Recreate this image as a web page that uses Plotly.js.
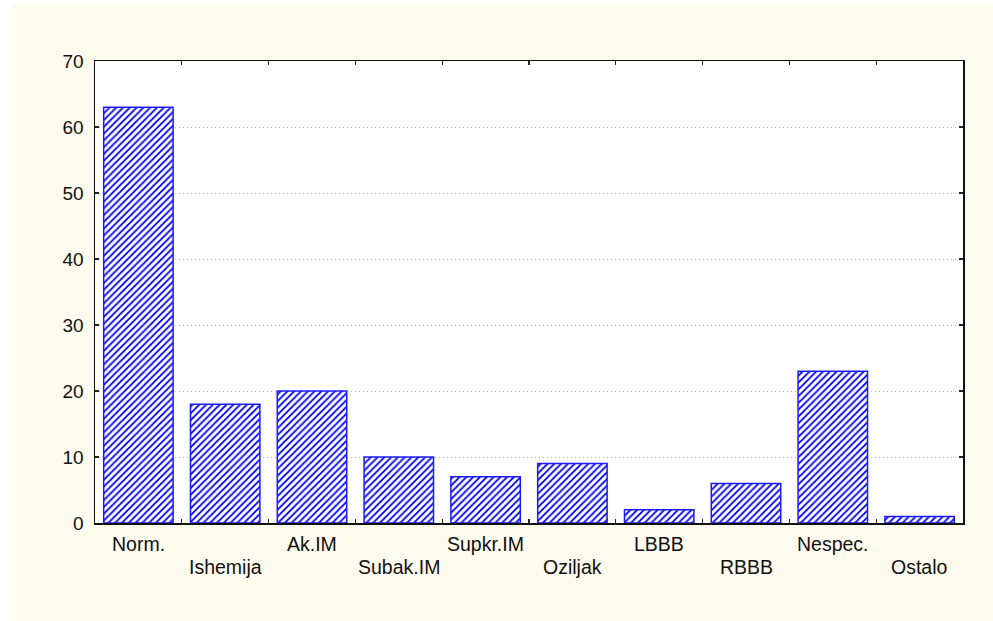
<!DOCTYPE html>
<html>
<head>
<meta charset="utf-8">
<script src="https://cdn.plot.ly/plotly-3.0.1.min.js"></script>
<style>
html,body{margin:0;padding:0;background:#ffffff;width:993px;height:621px;overflow:hidden;}
#chart{position:absolute;left:12px;top:4px;width:981px;height:617px;}
</style>
</head>
<body>
<div id="chart"></div>
<script>
const categories = ["Norm.", "Ishemija", "Ak.IM", "Subak.IM", "Supkr.IM", "Oziljak", "LBBB", "RBBB", "Nespec.", "Ostalo"];
const counts = [63, 18, 20, 10, 7, 9, 2, 6, 23, 1];
const yTicks = [0, 10, 20, 30, 40, 50, 60, 70];

const fontFam = '"Liberation Sans", Arial, Helvetica, sans-serif';

const trace = {
  type: 'bar',
  x: categories,
  y: counts,
  width: 0.8,
  marker: {
    color: '#ffffff',
    line: {color: '#1a1aff', width: 1.5},
    pattern: {shape: '/', fgcolor: '#0000ee', bgcolor: '#ffffff', size: 4.8, solidity: 0.38}
  },
  hoverinfo: 'x+y'
};

const annotations = categories.map((c, i) => ({
  x: c, xref: 'x', y: 0, yref: 'paper',
  text: c, showarrow: false,
  xanchor: 'center', yanchor: 'middle',
  yshift: (i % 2 === 0) ? -21 : -44,
  font: {family: fontFam, size: 19.5, color: '#111111'}
}));

const layout = {
  width: 981, height: 617,
  paper_bgcolor: '#fefbef',
  plot_bgcolor: '#ffffff',
  margin: {l: 83, r: 30, t: 57, b: 98},
  showlegend: false,
  font: {family: fontFam, size: 19, color: '#111111'},
  xaxis: {
    type: 'category',
    range: [-0.5, 9.5],
    tickson: 'boundaries',
    ticks: 'inside', ticklen: 4, tickwidth: 1.2, tickcolor: '#222',
    showticklabels: false,
    showgrid: false,
    showline: true, linecolor: '#111', linewidth: 1.5,
    mirror: 'ticks'
  },
  yaxis: {
    range: [0, 70],
    tickvals: yTicks,
    ticktext: yTicks.map(String),
    ticks: 'inside', ticklen: 4, tickwidth: 1.2, tickcolor: '#222',
    ticklabelstandoff: 6,
    showgrid: true, gridcolor: '#b4b4b4', gridwidth: 1, griddash: '1px,3px',
    zeroline: false,
    showline: true, linecolor: '#111', linewidth: 1.5,
    mirror: 'ticks',
    tickfont: {family: fontFam, size: 19, color: '#111'}
  },
  annotations: annotations
};

Plotly.newPlot('chart', [trace], layout, {displayModeBar: false, staticPlot: true});
</script>
</body>
</html>
